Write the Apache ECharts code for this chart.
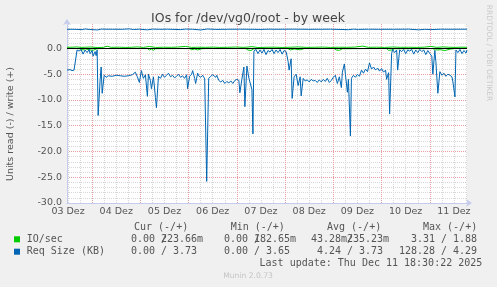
<!DOCTYPE html>
<html><head><meta charset="utf-8">
<script src="https://cdn.jsdelivr.net/npm/echarts@6/dist/echarts.min.js"></script>
<style>html,body{margin:0;padding:0;background:#f0f0f0;}#c{width:497px;height:287px;}</style>
</head><body><div id="c"></div>
<script>
// x values are 30-minute steps since 2025-12-03 11:30 (munin week resolution)
const startHour = 11.5;           // hours after 03 Dez 00:00
const stepHours = 0.5;
const lastStep = 398;
const dayLabels = ['03 Dez','04 Dez','05 Dez','06 Dez','07 Dez','08 Dez','09 Dez','10 Dez','11 Dez'];
const yTickValues = [0,-5,-10,-15,-20,-25,-30];
const yMin = -30, yMax = 4.75;

// Req Size (KB), read (drawn negative)
const readReqSize = [[0,4.2],[3,4.1],[5,4.3],[7,4.2],[8,4.0],[10,0.3],[12,0.5],[14,0.2],[16,1.1],[18,0.3],[20,0.8],[22,0.2],[23,1.0],[25,0.4],[26,1.5],[28,0.6],[29,1.4],[30,0.3],[31,13.0],[33,6.0],[34,3.6],[35,8.7],[37,5.2],[39,5.6],[41,5.3],[45,5.4],[49,5.2],[53,5.3],[57,5.4],[61,5.3],[65,5.1],[68,4.6],[70,5.5],[72,6.6],[74,4.3],[76,5.8],[78,5.1],[80,9.3],[81,5.0],[83,6.2],[84,7.8],[86,5.5],[88,9.5],[89,11.5],[91,5.4],[93,5.8],[95,5.0],[97,5.6],[99,5.2],[101,4.8],[103,5.5],[105,5.2],[107,5.7],[109,5.4],[111,5.0],[113,5.6],[115,5.3],[117,5.8],[119,5.1],[120,7.8],[122,5.4],[124,5.0],[125,4.3],[127,5.8],[128,6.8],[130,4.8],[131,5.3],[133,5.6],[135,5.2],[137,5.9],[138,6.0],[139,25.8],[141,5.8],[143,5.4],[145,5.1],[146,4.8],[148,5.6],[149,5.2],[151,6.2],[153,6.5],[155,6.2],[157,6.8],[159,6.4],[161,6.7],[163,6.3],[165,6.8],[167,6.2],[169,6.0],[171,6.2],[172,8.6],[174,6.0],[176,3.6],[177,11.3],[179,3.4],[181,5.8],[182,6.5],[184,8.0],[185,16.6],[186,0.5],[188,0.2],[190,1.0],[192,0.3],[194,0.9],[196,0.2],[198,1.2],[200,0.4],[202,0.7],[204,0.2],[206,1.0],[208,0.3],[210,0.8],[212,0.2],[214,1.1],[216,0.4],[218,0.6],[220,2.5],[221,4.2],[223,2.0],[224,9.7],[226,5.5],[228,5.0],[230,7.2],[232,5.5],[233,9.2],[235,5.8],[237,6.3],[239,6.1],[241,6.5],[243,6.0],[245,6.3],[247,6.2],[249,6.6],[251,6.1],[253,6.5],[255,6.0],[257,6.4],[259,5.8],[261,6.6],[263,6.2],[265,5.6],[267,5.2],[269,6.8],[271,5.5],[273,7.6],[274,4.6],[276,3.0],[277,5.0],[279,8.5],[280,6.0],[282,17.0],[283,5.8],[285,5.2],[287,5.6],[289,5.0],[291,5.4],[293,4.2],[295,4.8],[297,4.0],[299,4.5],[301,2.8],[303,4.0],[305,3.6],[307,4.2],[309,3.8],[311,4.4],[313,3.9],[315,4.6],[317,4.2],[318,6.0],[320,4.7],[321,12.7],[323,1.0],[324,0.2],[326,0.8],[328,0.3],[329,4.2],[331,0.3],[333,0.6],[335,0.2],[337,1.0],[339,0.3],[341,0.5],[343,0.2],[345,1.1],[347,0.3],[349,0.8],[351,0.2],[353,0.6],[355,0.3],[357,1.2],[359,0.4],[361,1.0],[363,1.5],[364,5.0],[366,0.4],[367,2.5],[369,8.7],[371,4.5],[373,5.2],[375,4.8],[377,5.4],[379,5.0],[381,5.2],[383,5.5],[384,6.5],[386,9.4],[387,0.3],[389,0.8],[391,0.2],[393,1.0],[395,0.4],[397,0.9],[398,0.3]];
// Req Size (KB), write
const writeReqSize = [[0,3.73],[8,3.72],[15,3.65],[18,3.78],[22,3.7],[30,3.6],[34,3.75],[45,3.73],[55,3.72],[62,3.8],[66,3.68],[72,3.74],[80,3.62],[85,3.76],[92,3.72],[100,3.74],[113,3.66],[118,3.76],[125,3.73],[133,3.6],[140,3.78],[148,3.7],[160,3.73],[172,3.74],[185,3.72],[192,3.7],[200,3.74],[210,3.73],[225,3.75],[240,3.72],[250,3.73],[262,3.74],[280,3.65],[285,3.75],[290,3.7],[300,3.74],[310,3.72],[325,3.73],[340,3.75],[350,3.62],[356,3.72],[362,3.66],[372,3.74],[385,3.73],[398,3.74]];
// IO/sec, read (drawn negative)
const readIO = [[0,0.02],[12,0.02],[14,0.15],[16,0.3],[18,0.05],[22,0.25],[26,0.35],[29,0.1],[32,0.02],[80,0.02],[82,0.3],[84,0.1],[86,0.35],[88,0.05],[96,0.02],[122,0.02],[124,0.25],[127,0.1],[130,0.3],[134,0.05],[138,0.02],[178,0.02],[180,0.3],[183,0.4],[186,0.05],[200,0.02],[220,0.02],[222,0.3],[226,0.1],[232,0.25],[236,0.02],[266,0.02],[268,0.3],[271,0.35],[274,0.05],[300,0.02],[318,0.02],[320,0.35],[323,0.3],[326,0.05],[364,0.02],[366,0.3],[372,0.25],[376,0.4],[382,0.1],[386,0.02],[398,0.02]];
// IO/sec, write
const writeIO = [[0,0.22],[6,0.25],[10,0.3],[14,0.2],[18,0.24],[24,0.28],[30,0.18],[36,0.22],[40,0.42],[44,0.22],[52,0.25],[58,0.2],[64,0.23],[70,0.3],[76,0.21],[82,0.38],[88,0.2],[96,0.24],[104,0.22],[110,0.27],[118,0.4],[124,0.2],[130,0.24],[138,0.22],[146,0.26],[152,0.2],[160,0.23],[168,0.28],[176,0.21],[184,0.35],[190,0.18],[198,0.23],[206,0.25],[214,0.2],[222,0.24],[230,0.3],[238,0.21],[246,0.23],[254,0.27],[262,0.2],[270,0.24],[278,0.22],[286,0.26],[294,0.45],[300,0.22],[308,0.25],[316,0.2],[324,0.28],[332,0.22],[340,0.24],[348,0.2],[356,0.26],[362,0.4],[368,0.22],[374,0.3],[380,0.24],[386,0.2],[392,0.25],[398,0.22]];

const legendNames = ['IO/sec','Req Size (KB)'];
const legendHeaders = ['Cur (-/+)','Min (-/+)','Avg (-/+)','Max (-/+)'];
const ioStats  = [['0.00','223.66m'],['0.00','182.65m'],['43.28m','235.23m'],['3.31','1.88']];
const reqStats = [['0.00','3.73'],['0.00','3.65'],['4.24','3.73'],['128.28','4.29']];
const lastUpdate = 'Last update: Thu Dec 11 18:30:22 2025';
const titleText = 'IOs for /dev/vg0/root - by week';
const yName = 'Units read (-) / write (+)';
const sideText = 'RRDTOOL / TOBI OETIKER';
const footer = 'Munin 2.0.73';

const GREEN = '#00cc00', BLUE = '#0066b3';
const hourToStep = h => (h - startHour) / stepHours;
const noonSteps = dayLabels.map((d, i) => hourToStep(i * 24 + 12));
const midnightSteps = dayLabels.map((d, i) => hourToStep(i * 24 + 24)).filter(s => s <= lastStep);
const sixHourSteps = [];
for (let h = 12; hourToStep(h) <= lastStep; h += 6) sixHourSteps.push(hourToStep(h));
const yMinor = [];
for (let v = yMin; v <= yMax; v += 1) yMinor.push(v);
const neg = arr => arr.map(p => [p[0], -p[1]]);

const chart = echarts.init(document.getElementById('c'), null, {renderer: 'canvas'});
const AXIS_COL = '#c4cbec';
const minorLine = {show: true, lineStyle: {color: '#d8d8d8', width: 1, type: [1, 1]}};
const majorLine = {show: true, lineStyle: {color: '#eaa0a0', width: 1, type: [1, 1]}};
const axisFont = {fontFamily: 'DejaVu Sans', fontSize: 9.5, color: '#555'};

// legend graphics
const MONO = '10px "DejaVu Sans Mono"';
const g = [];
const txt = (text, x, y, opt) => g.push(Object.assign({type: 'text', x, y, silent: true,
  style: Object.assign({text, font: MONO, fill: '#555', verticalAlign: 'middle', align: 'left'}, opt || {})}));
g.push({type: 'text', x: 248, y: 19, style: {text: titleText, font: '12.5px "DejaVu Sans"', fill: '#444', align: 'center', verticalAlign: 'middle'}});
g.push({type: 'text', x: 10.5, y: 124, rotation: Math.PI / 2, style: {text: yName, font: '9.5px "DejaVu Sans"', fill: '#555', align: 'center', verticalAlign: 'middle'}});
g.push({type: 'text', x: 488.5, y: 53, rotation: -Math.PI / 2, style: {text: sideText, font: '7.5px "DejaVu Sans"', fill: '#cacaca', align: 'center', verticalAlign: 'middle'}});
g.push({type: 'text', x: 248, y: 276, style: {text: footer, font: '7.6px "DejaVu Sans"', fill: '#c4c4c4', align: 'center', verticalAlign: 'middle'}});
const headerX = [134, 230.7, 327, 423];
legendHeaders.forEach((h, i) => txt(h, headerX[i], 227.7));
const slashX = [161, 254, 347, 441];
const rowY = [239.3, 251.7];
const rowColors = [GREEN, BLUE];
[ioStats, reqStats].forEach((stats, r) => {
  g.push({type: 'rect', shape: {x: 14, y: rowY[r] - 3, width: 6, height: 6}, style: {fill: rowColors[r]}});
  txt(legendNames[r], 26.7, rowY[r]);
  stats.forEach((pair, c) => {
    const sx = slashX[c];
    const split = s => { const m = s.match(/^([0-9.]+)(\D*)$/); return [m[1], m[2]]; };
    const a = split(pair[0]), b = split(pair[1]);
    txt(a[0], sx - 6, rowY[r], {align: 'right'});
    if (a[1]) txt(a[1], sx - 6, rowY[r]);
    txt('/', sx, rowY[r]);
    txt(b[0], sx + 36, rowY[r], {align: 'right'});
    if (b[1]) txt(b[1], sx + 36, rowY[r]);
  });
});
txt(lastUpdate, 482.3, 263.7, {align: 'right'});

const xBase = {type: 'value', min: 0, max: lastStep, gridIndex: 0};
const yBase = {type: 'value', min: yMin, max: yMax, gridIndex: 0};
chart.setOption({
  animation: false,
  backgroundColor: '#f0f0f0',
  grid: {left: 67, right: 30, top: 24, bottom: 84, show: true, backgroundColor: '#ffffff', borderWidth: 0},
  xAxis: [
    Object.assign({}, xBase, {
      axisLine: {show: true, onZero: false, lineStyle: {color: AXIS_COL, width: 1}, symbol: ['none', 'arrow'], symbolSize: [6, 6], symbolOffset: [0, 5]},
      axisTick: {show: false, customValues: sixHourSteps},
      splitLine: minorLine,
      axisLabel: Object.assign({customValues: noonSteps, margin: 4, formatter: v => dayLabels[noonSteps.indexOf(v)] || ''}, axisFont)
    }),
    Object.assign({}, xBase, {
      axisLine: {show: false}, axisTick: {show: false, customValues: midnightSteps},
      splitLine: majorLine, axisLabel: {show: false}
    })
  ],
  yAxis: [
    Object.assign({}, yBase, {
      axisLine: {show: true, onZero: false, lineStyle: {color: AXIS_COL, width: 1}, symbol: ['none', 'arrow'], symbolSize: [6, 6], symbolOffset: [0, 5]},
      axisTick: {show: false, customValues: yMinor},
      splitLine: minorLine, axisLabel: {show: false}
    }),
    Object.assign({}, yBase, {
      position: 'left', offset: 0,
      axisLine: {show: false}, axisTick: {show: false, customValues: yTickValues},
      splitLine: majorLine,
      axisLabel: Object.assign({customValues: yTickValues, margin: 5, formatter: v => v.toFixed(1)}, axisFont)
    })
  ],
  series: [
    {type: 'line', data: neg(readIO), showSymbol: false, lineStyle: {color: GREEN, width: 1}, itemStyle: {color: GREEN},
     markLine: {silent: true, symbol: 'none', label: {show: false}, lineStyle: {color: '#000', width: 1, type: 'solid'}, data: [{yAxis: 0}]}},
    {type: 'line', data: writeIO, showSymbol: false, lineStyle: {color: GREEN, width: 1}, itemStyle: {color: GREEN}},
    {type: 'line', data: neg(readReqSize), showSymbol: false, lineStyle: {color: BLUE, width: 1}, itemStyle: {color: BLUE}},
    {type: 'line', data: writeReqSize, showSymbol: false, lineStyle: {color: BLUE, width: 1}, itemStyle: {color: BLUE}}
  ],
  graphic: {elements: g}
});
</script></body></html>
